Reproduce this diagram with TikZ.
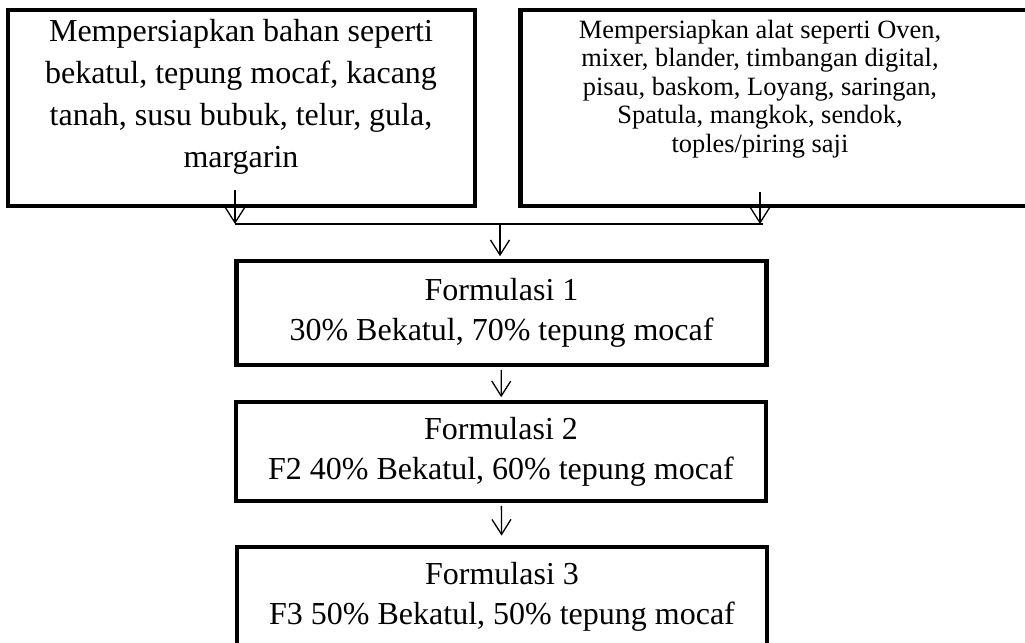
\documentclass[tikz,border=0pt]{standalone}
\usepackage{fontspec}
\setmainfont{Liberation Serif}
\usetikzlibrary{arrows.meta, calc, positioning}

\begin{document}
\begin{tikzpicture}[x=0.5pt, y=-0.5pt]
\tikzset{box/.style={draw, line width=2.4pt, inner sep=0pt}, formbox/.style={box, text width=265pt, align=flush center, font=\fontsize{16}{20}\selectfont}, bigtext/.style={text width=230pt, align=flush center, font=\fontsize{16}{21}\selectfont}, smalltext/.style={text width=240pt, align=flush center, font=\fontsize{13.2}{14.3}\selectfont}, link/.style={line width=0.65pt}, flow/.style={link, -{Straight Barb[length=7.5pt, width=9.5pt]}}}

% Normalize bounding box
\useasboundingbox (0,0) rectangle (1025,643);
\clip (0,0) rectangle (1025,643);

% bahan dan alat
\node [box, minimum width=233.5pt, minimum height=98pt] (bahan) at (241.5,108) {};
\node [bigtext] (bahantxt) at (241,97) {Mempersiapkan bahan seperti\\bekatul, tepung mocaf, kacang\\tanah, susu bubuk, telur, gula,\\margarin};
\node [box, minimum width=261pt, minimum height=98pt, anchor=west] (alat) at (518,108) {};
\node [smalltext] (alattxt) at (760,89) {Mempersiapkan alat seperti Oven,\\mixer, blander, timbangan digital,\\pisau, baskom, Loyang, saringan,\\Spatula, mangkok, sendok,\\toples/piring saji};

% formulasi
\node [formbox, minimum height=52pt] (F1) at (501.5,313) {Formulasi 1\\30\% Bekatul, 70\% tepung mocaf};
\node [formbox, minimum height=49.5pt] (F2) at (501,451.5) {Formulasi 2\\F2 40\% Bekatul, 60\% tepung mocaf};
\node [formbox, minimum height=50pt] (F3) at (502,597) {Formulasi 3\\F3 50\% Bekatul, 50\% tepung mocaf};

\coordinate (jl) at (235,224);
\coordinate (jr) at (760,224);
\coordinate (jm) at (500,224);

\draw [flow] ($(bahan.south -| jl) + (0,-18)$) -- (jl);
\draw [flow] ($(alat.south -| jr) + (0,-16)$) -- (jr);
\draw [link] (jl) -- ($(jr) + (3,0)$);
\draw [flow, shorten >=1.2pt] (jm) -- (F1.north -| jm);
\draw [flow, shorten >=1.2pt, shorten <=1.2pt] (F1) -- (F2);
\draw [flow, shorten >=4.5pt, shorten <=1.2pt] (F2) -- (F3);

\end{tikzpicture}
\end{document}
